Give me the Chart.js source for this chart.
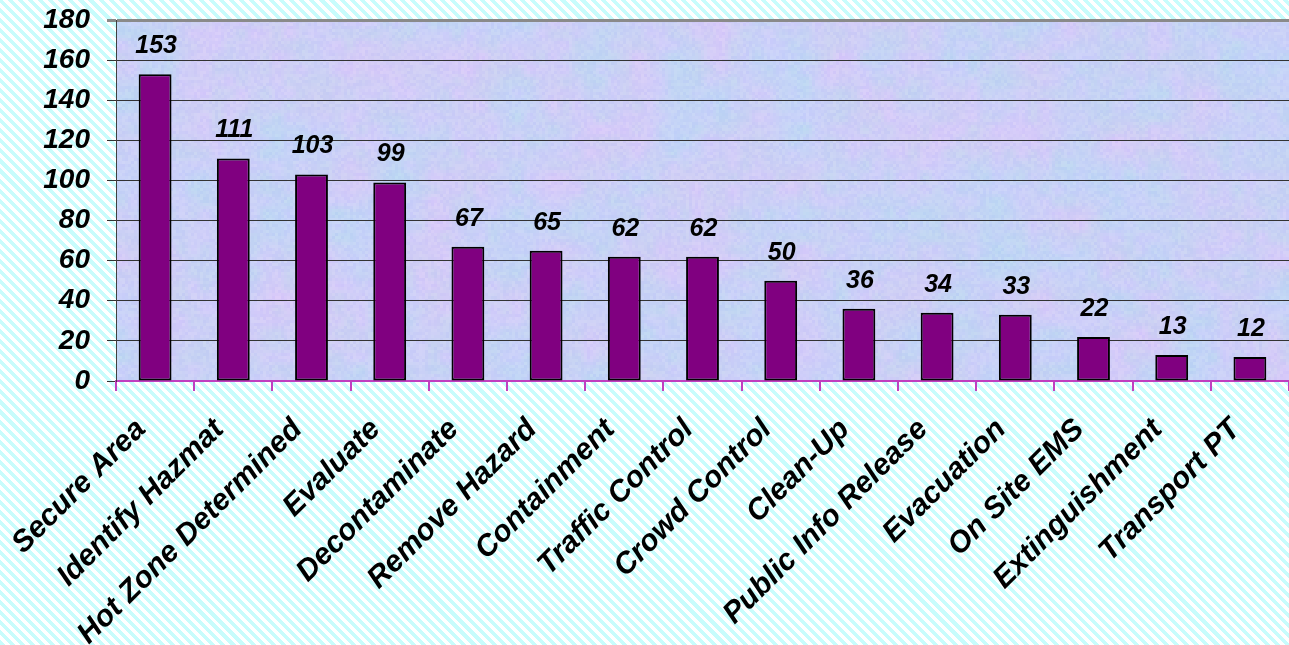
<!DOCTYPE html>
<html>
<head>
<meta charset="utf-8">
<script src="https://cdn.jsdelivr.net/npm/chart.js@4"></script>
<style>
  html, body {
    margin: 0;
    padding: 0;
    width: 1289px;
    height: 645px;
    overflow: hidden;
    background: repeating-linear-gradient(45deg, #c8fcfc 0px, #c8fcfc 3.6px, #ffffff 3.6px, #ffffff 7.1px);
  }
  canvas { display: block; }
</style>
</head>
<body>
<canvas id="chart" width="1289" height="645"></canvas>
<script>
const categories = [
  'Secure Area', 'Identify Hazmat', 'Hot Zone Determined', 'Evaluate',
  'Decontaminate', 'Remove Hazard', 'Containment', 'Traffic Control',
  'Crowd Control', 'Clean-Up', 'Public Info Release', 'Evacuation',
  'On Site EMS', 'Extinguishment', 'Transport PT'
];
const counts = [153, 111, 103, 99, 67, 65, 62, 62, 50, 36, 34, 33, 22, 13, 12];
const yTicks = [0, 20, 40, 60, 80, 100, 120, 140, 160, 180];

const fontFamily = '"Liberation Sans", Arial, Helvetica, sans-serif';

// hash used only for the background texture
function hash(x, y) {
  const b = Math.sin(x * 127.1 + y * 311.7) * 43758.5453;
  return b - Math.floor(b);
}

function smoothNoise(x, y, size) {
  const gx = Math.floor(x / size);
  const gy = Math.floor(y / size);
  const fx = x / size - gx;
  const fy = y / size - gy;
  const sx = fx * fx * (3 - 2 * fx);
  const sy = fy * fy * (3 - 2 * fy);
  const a = hash(gx, gy);
  const b = hash(gx + 1, gy);
  const c = hash(gx, gy + 1);
  const d = hash(gx + 1, gy + 1);
  return a + (b - a) * sx + (c - a) * sy + (a - b - c + d) * sx * sy;
}

// mottled lavender / blue texture for the plot area
function makeTexture(w, h) {
  const c = document.createElement('canvas');
  c.width = w;
  c.height = h;
  const g = c.getContext('2d');
  const cell = 3;
  for (let y = 0; y < h; y += cell) {
    for (let x = 0; x < w; x += cell) {
      const big = smoothNoise(x, y, 40);
      const mid = smoothNoise(x + 500, y + 300, 12);
      const fine = hash(x, y);
      const pink = big * 0.6 + mid * 0.4;
      const r = 186 + pink * 32 + (fine - 0.5) * 10;
      const gr = 216 - pink * 16 + (fine - 0.5) * 10;
      const bl = 246 + (mid - 0.5) * 8;
      g.fillStyle = 'rgb(' + Math.round(r) + ',' + Math.round(gr) + ',' + Math.round(Math.min(bl, 255)) + ')';
      g.fillRect(x, y, cell, cell);
    }
  }
  return c;
}

const plotBackground = {
  id: 'plotBackground',
  beforeDraw(chart) {
    const { ctx, chartArea } = chart;
    const w = Math.round(chartArea.right - chartArea.left);
    const h = Math.round(chartArea.bottom - chartArea.top);
    ctx.save();
    ctx.drawImage(makeTexture(w, h), chartArea.left, chartArea.top);
    ctx.restore();
  }
};

const valueLabels = {
  id: 'valueLabels',
  afterDatasetsDraw(chart) {
    const { ctx } = chart;
    const meta = chart.getDatasetMeta(0);
    ctx.save();
    ctx.font = 'italic bold 25px ' + fontFamily;
    ctx.fillStyle = '#000000';
    ctx.textAlign = 'center';
    ctx.textBaseline = 'alphabetic';
    meta.data.forEach((bar, i) => {
      ctx.fillText(String(counts[i]), bar.x + 1, bar.y - 21);
    });
    ctx.restore();
  }
};

new Chart(document.getElementById('chart'), {
  type: 'bar',
  data: {
    labels: categories,
    datasets: [
      {
        data: counts,
        backgroundColor: '#800080',
        borderColor: '#000000',
        borderWidth: 2,
        borderSkipped: false,
        categoryPercentage: 1,
        barPercentage: 0.42,
      },
    ],
  },
  options: {
    responsive: false,
    animation: false,
    layout: {
      padding: { top: 20, right: 0, left: 0, bottom: 0 },
    },
    plugins: {
      legend: { display: false },
      tooltip: { enabled: false },
    },
    scales: {
      x: {
        grid: {
          drawOnChartArea: false,
          color: '#c040c0',
          lineWidth: 2,
          tickLength: 10,
        },
        border: { color: '#c040c0', width: 2 },
        ticks: {
          autoSkip: false,
          minRotation: 45,
          maxRotation: 45,
          padding: 21,
          labelOffset: -14,
          color: '#000000',
          font: { family: fontFamily, size: 30, weight: 'bold', style: 'italic' },
        },
        afterFit(scale) {
          scale.height = 264;
          scale.paddingLeft = 0;
          scale.paddingRight = 0;
        },
      },
      y: {
        min: 0,
        max: 180,
        afterBuildTicks(scale) {
          scale.ticks = yTicks.map(v => ({ value: v }));
        },
        grid: {
          color: ctx => (ctx.tick && ctx.tick.value === 180 ? '#8a8a8a' : '#333333'),
          lineWidth: ctx => (ctx.tick && ctx.tick.value === 180 ? 3 : 1),
          tickLength: 9,
        },
        border: { color: '#404040', width: 1 },
        ticks: {
          padding: 17,
          color: '#000000',
          font: { family: fontFamily, size: 28, weight: 'bold', style: 'italic' },
        },
        afterFit(scale) {
          scale.width = 116;
          scale.paddingTop = 0;
          scale.paddingBottom = 0;
        },
      },
    },
  },
  plugins: [plotBackground, valueLabels],
});
</script>
</body>
</html>
